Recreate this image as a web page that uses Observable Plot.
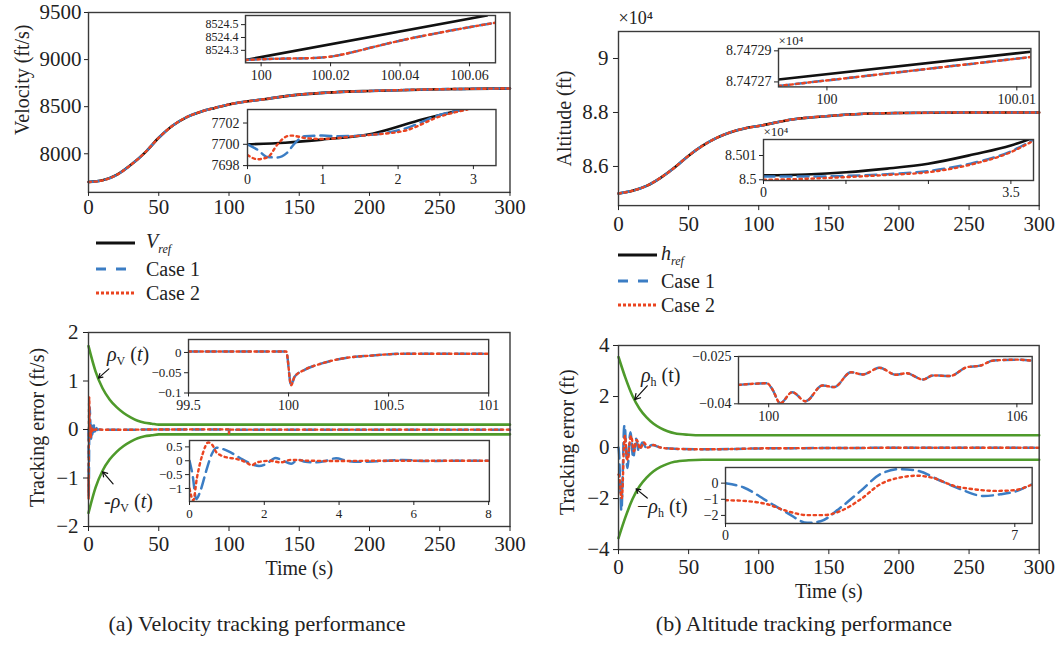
<!DOCTYPE html>
<html><head><meta charset="utf-8">
<script src="https://cdn.jsdelivr.net/npm/d3@7"></script>
<script src="https://cdn.jsdelivr.net/npm/@observablehq/plot@0.6"></script>
<style>
body{margin:0;background:#fff;}
#c{position:relative;width:1059px;height:645px;overflow:hidden;font-family:"Liberation Serif",serif;color:#222;background:#fff;}
.lbl{position:absolute;font-size:20px;white-space:nowrap;line-height:1;transform:translateY(-50%);}
.lbl sub{font-size:12px;vertical-align:-4px;}
.cap{position:absolute;font-size:22px;white-space:nowrap;transform:translate(-50%,-50%);}
</style></head><body><div id="c"></div>
<script>
// ---------------- data (a) velocity ----------------
const tV   = [0,10,20,30,40,50,60,70,80,90,100,125,150,175,200,250,300];
const vRef = [7700,7718,7775,7880,8010,8170,8300,8390,8447,8487,8524,8579,8628,8653,8667,8685,8693];
const vCase1 = vRef, vCase2 = vRef; // coincide at full scale
// inset: around t = 100 s
const tA1Ref = [99.9955,100.065], vA1Ref = [8524.225,8524.571];
const tA1Case = [99.9955,100.005,100.015,100.021,100.027,100.033,100.04,100.05,100.06,100.0675];
const vA1Case = [8524.225,8524.235,8524.24,8524.255,8524.29,8524.33,8524.375,8524.43,8524.48,8524.515];
// inset: first seconds
const tA2Ref = [0,0.5,0.99,1.66,2.33,2.85], vA2Ref = [7700,7700.15,7700.44,7701.0,7702.35,7703.25];
const tA2C1 = [0,0.13,0.27,0.4,0.52,0.63,0.76,0.99,1.21,1.66,2.1,2.55,2.88];
const vA2C1 = [7700,7699.5,7698.8,7698.76,7699.17,7700.12,7700.76,7700.82,7700.76,7700.9,7701.5,7702.75,7703.27];
const tA2C2 = [0,0.13,0.27,0.4,0.52,0.58,0.76,0.99,1.43,1.66,2.1,2.55,2.92];
const vA2C2 = [7699.0,7698.6,7698.8,7700.0,7700.75,7700.82,7700.6,7700.5,7700.76,7700.9,7701.3,7702.6,7703.27];
// ---------------- data (a) tracking error ----------------
const tRhoV = [0,5,10,15,20,25,30,35,40,45,50,300];
const rhoV  = [1.72,1.2,0.85,0.62,0.46,0.34,0.25,0.18,0.14,0.12,0.1,0.1];
const tEV1 = [0,0.08,0.18,0.3,0.45,0.6,0.72,0.9,1.1,1.35,1.6,1.86,2.05,2.3,2.5,2.72,2.9,3.1,3.35,3.6,3.92,4.2,4.5,5,5.7,6.3,7,8,10,20,50];
const eV1  = [0,-0.5,-1.38,-1.05,-0.35,0.25,0.47,0.42,0.3,0.1,-0.08,-0.19,-0.12,0.1,0,-0.11,0.04,-0.04,-0.06,-0.02,0.09,0,-0.04,-0.02,0.03,-0.01,0,0,-0.005,-0.005,0];
const tEV2 = [0,0.1,0.2,0.35,0.5,0.62,0.72,0.83,1.0,1.27,1.5,1.67,1.8,2.16,2.43,2.7,3.2,4,5,6,8,10,20,50];
const eV2  = [-1.0,-1.43,-0.6,0.24,0.66,0.55,0.3,0.2,0.12,0.06,-0.05,-0.16,-0.06,0,-0.06,0.03,0,-0.01,0,0,0,-0.005,-0.005,0];
const tEV100 = [99.5,99.988,100.013,100.03,100.08,100.166,100.25,100.42,100.59,101];
const eV100  = [0.0025,0.0025,-0.081,-0.06,-0.043,-0.027,-0.0165,-0.0074,-0.003,-0.003];
const tEVend = [150,300], eVend = [-0.003,-0.003];
// ---------------- data (b) altitude (x10^4 ft) ----------------
const tH   = [0,10,20,30,40,50,60,70,80,90,100,125,150,175,200,250,300];
const hRef = [8.5,8.51,8.528,8.558,8.596,8.64,8.677,8.706,8.727,8.741,8.75,8.775,8.787,8.795,8.798,8.8,8.8];
const hCase1 = hRef, hCase2 = hRef;
const tB1Ref = [99.99745,100.01074], hB1Ref = [8.7472716,8.7472894];
const tB1Case = [99.99745,100.01074], hB1Case = [8.7472674,8.747286];
const tB2Ref = [0,0.6,1.17,1.75,2.33,2.98,3.5,3.75];
const hB2Ref = [8.50018,8.50022,8.50031,8.50046,8.50066,8.50105,8.50141,8.50166];
const tB2C1 = [0,0.6,1.17,1.75,2.33,2.98,3.5,3.82];
const hB2C1 = [8.50013,8.50013,8.50016,8.50023,8.50036,8.5007,8.50117,8.50166];
const tB2C2 = [0,0.6,1.17,1.75,2.33,2.98,3.5,3.85];
const hB2C2 = [8.5,8.50004,8.50011,8.5002,8.50031,8.50066,8.50114,8.50166];
// ---------------- data (b) tracking error ----------------
const tRhoH = [0,5,10,15,20,25,30,35,40,50,60,300];
const rhoH  = [3.55,2.72,2.02,1.52,1.18,0.93,0.76,0.64,0.56,0.5,0.48,0.48];
const tEH1 = [0,0.44,1.0,1.49,1.98,2.3,2.78,3.27,3.75,4.23,4.64,5.2,5.69,6.25,6.65,7.06,7.43,8.5,10.5,12.5,14.5,17,20,24,30,40,60,80];
const eH1  = [0,-0.27,-1.1,-1.84,-2.46,-2.36,-1.52,-0.48,0.56,0.87,0.77,0.15,-0.38,-0.8,-0.69,-0.48,-0.06,0.6,-0.4,0.35,-0.15,0.2,-0.02,0.1,0,-0.05,-0.07,-0.06];
const tEH2 = [0,0.44,1.0,1.49,1.98,2.38,2.78,3.27,3.75,4.23,4.64,5.04,5.53,6.01,6.5,6.98,7.43,9,11,13,15.5,18,21,25,30,40,60,80];
const eH2  = [-1.06,-1.1,-1.3,-1.73,-1.98,-1.98,-1.73,-1.0,-0.06,0.35,0.46,0.31,-0.17,-0.38,-0.48,-0.44,-0.1,0.45,-0.15,0.3,-0.05,0.2,0,0.1,0,-0.05,-0.07,-0.06];
const tEH100 = [99.27,99.96,100.08,100.28,100.57,100.89,101.3,101.58,101.99,102.27,102.68,103.08,103.33,103.73,103.97,104.38,104.79,105.11,105.43,106.0,106.33];
const eH100  = [-0.034,-0.0335,-0.0352,-0.0398,-0.0363,-0.0392,-0.0342,-0.0347,-0.030,-0.0307,-0.0286,-0.0308,-0.0303,-0.0323,-0.031,-0.0312,-0.0284,-0.0279,-0.0263,-0.026,-0.0263];
const tEHend = [150,200,300], eHend = [-0.02,-0.01,-0.01];
// annotation arrows (data coordinates of their panels)
const arrowsV = [{x1:14.5,y1:1.25,x2:7,y2:1.06},{x1:17.5,y1:-1.12,x2:10,y2:-0.87}];
const arrowsH = [{x1:20.5,y1:2.42,x2:11.5,y2:1.88},{x1:20.5,y1:-1.98,x2:12.5,y2:-1.62}];

// ---------------- drawing ----------------
const FONT = "Liberation Serif";
const BLACK="#111", BLUE="#3b7dc4", RED="#ea4420", GREEN="#4e9a2b", FRAME="#3a3a3a";
const C = document.getElementById("c");
const P = (t, v) => t.map((x, i) => ({t: x, v: v[i]}));
const cat = (...parts) => parts.flat();
const f6 = d3.format(".6~f"), fd = d3.format("d");

function lines(ref, c1, c2, clip) {
  const out = [];
  if (ref) out.push(Plot.line(ref, {x:"t", y:"v", stroke:BLACK, strokeWidth:2.6, curve:"monotone-x", clip}));
  out.push(Plot.line(c1, {x:"t", y:"v", stroke:BLUE, strokeWidth:2.5, strokeDasharray:"11,6", curve:"monotone-x", clip}));
  out.push(Plot.line(c2, {x:"t", y:"v", stroke:RED, strokeWidth:2.4, strokeDasharray:"2.4,3.6", curve:"monotone-x", clip}));
  return out;
}
function envelope(t, r) {
  const d = P(t, r);
  return [
    Plot.line(d, {x:"t", y:"v", stroke:GREEN, strokeWidth:2.6, curve:"monotone-x"}),
    Plot.line(d, {x:"t", y: e => -e.v, stroke:GREEN, strokeWidth:2.6, curve:"monotone-x"})
  ];
}

function panel(o) {
  const [x0, y0, x1, y1] = o.box;
  const [mT, mR, mB, mL] = o.m;
  const W = x1 - x0, H = y1 - y0;
  const marks = [];
  if (o.bg) marks.push(Plot.frame({fill: "white"}));
  marks.push(...o.marks);
  marks.push(Plot.frame({stroke: FRAME, strokeWidth: o.fw ?? 1.4}));
  marks.push(Plot.axisX({ticks: o.xt, tickFormat: o.xf, tickSize: o.ts, tickPadding: o.tp, fontSize: o.fsx ?? o.fs, label: null}));
  marks.push(Plot.axisY({ticks: o.yt, tickFormat: o.yf, tickSize: o.ts, tickPadding: o.tp, fontSize: o.fsy ?? o.fs, label: null}));
  if (o.ylab) marks.push(Plot.text([o.ylab.text], {frameAnchor:"left", text: d => d, rotate:-90,
      dx: o.ylab.x - x0, dy: o.ylab.y - (y0 + y1) / 2, fontSize: 20, textAnchor:"middle", lineAnchor:"middle"}));
  if (o.xlab) marks.push(Plot.text([o.xlab.text], {frameAnchor:"bottom", text: d => d,
      dy: o.xlab.y - y1, fontSize: 20, textAnchor:"middle", lineAnchor:"middle"}));
  if (o.exp) marks.push(Plot.text(["×10⁴"], {frameAnchor:"top-left", text: d => d,
      dx: o.exp.dx, dy: o.exp.dy, fontSize: o.exp.fs, textAnchor:"start", lineAnchor:"middle"}));
  const svg = Plot.plot({
    width: W + mL + mR, height: H + mT + mB,
    marginTop: mT, marginRight: mR, marginBottom: mB, marginLeft: mL,
    x: {domain: o.xd}, y: {domain: o.yd},
    style: {background: "transparent", overflow: "visible", fontFamily: FONT, color: "#222"},
    marks
  });
  svg.style.position = "absolute";
  svg.style.left = (x0 - mL) + "px";
  svg.style.top = (y0 - mT) + "px";
  C.appendChild(svg);
}

const xMain = [0,50,100,150,200,250,300];

// ===== (a) top: velocity =====
panel({box:[88,11.8,509.5,191.7], m:[10,15,35,85], xd:[0,300], yd:[7590,9500],
  xt:xMain, yt:[8000,8500,9000,9500], xf:fd, yf:fd, ts:4, tp:3, fs:21,
  ylab:{text:"Velocity (ft/s)", x:22, y:79},
  marks: lines(P(tV,vRef), P(tV,vCase1), P(tV,vCase2))});
panel({box:[245,15.2,495,62.5], m:[5,5,25,60], bg:true, xd:[99.9955,100.0675], yd:[8524.203,8524.571],
  xt:[100,100.02,100.04,100.06], yt:[8524.3,8524.4,8524.5], xf:f6, yf:d3.format(".1f"), ts:4, tp:3, fsx:14, fsy:12,
  marks: lines(P(tA1Ref,vA1Ref), P(tA1Case,vA1Case), P(tA1Case,vA1Case), true)});
panel({box:[246.8,108.9,495.3,165], m:[5,5,25,60], bg:true, xd:[0,3.3], yd:[7698,7703.27],
  xt:[0,1,2,3], yt:[7698,7700,7702], xf:fd, yf:fd, ts:4, tp:4, fs:14,
  marks: lines(P(tA2Ref,vA2Ref), P(tA2C1,vA2C1), P(tA2C2,vA2C2), true)});

// ===== (a) bottom: velocity tracking error =====
panel({box:[88,332,509.5,526], m:[10,15,60,85], xd:[0,300], yd:[-2,2],
  xt:xMain, yt:[-2,-1,0,1,2], xf:fd, yf:fd, ts:5, tp:5, fs:21,
  ylab:{text:"Tracking error (ft/s)", x:37, y:427}, xlab:{text:"Time (s)", y:568},
  marks: [...envelope(tRhoV, rhoV),
    ...lines(null, P(cat(tEV1,tEV100,tEVend), cat(eV1,eV100,eVend)), P(cat(tEV2,tEV100,tEVend), cat(eV2,eV100,eVend))),
    Plot.arrow(arrowsV, {x1:"x1", y1:"y1", x2:"x2", y2:"y2", stroke:BLACK, strokeWidth:1.2, headLength:8})]});
panel({box:[188.3,338.7,488.5,392.2], m:[5,5,25,60], bg:true, xd:[99.5,101], yd:[-0.1,0.032],
  xt:[99.5,100,100.5,101], yt:[-0.1,-0.05,0], xf:f6, yf:f6, ts:4, tp:3, fsx:14, fsy:13,
  marks: lines(null, P(tEV100,eV100), P(tEV100,eV100), true)});
panel({box:[189.3,440,489.2,501], m:[5,5,25,60], bg:true, xd:[0,8.02], yd:[-1.47,0.73],
  xt:[0,2,4,6,8], yt:[-1,-0.5,0,0.5], xf:fd, yf:f6, ts:4, tp:3, fsx:13, fsy:13,
  marks: lines(null, P(tEV1,eV1), P(tEV2,eV2), true)});

// ===== (b) top: altitude =====
panel({box:[617.7,31,1038.4,205.1], m:[30,15,35,80], xd:[0,300], yd:[8.455,9.1],
  xt:xMain, yt:[8.6,8.8,9], xf:fd, yf:f6, ts:5, tp:5, fs:21,
  ylab:{text:"Altitude (ft)", x:563.7, y:118}, exp:{dx:0, dy:-13, fs:18},
  marks: lines(P(tH,hRef), P(tH,hCase1), P(tH,hCase2))});
panel({box:[778.3,48.3,1030.7,86.7], m:[20,5,25,70], bg:true, xd:[99.99745,100.01074], yd:[8.7472668,8.7472915],
  xt:[100,100.01], yt:[8.74727,8.74729], xf:f6, yf:d3.format(".5f"), ts:4, tp:3, fs:14,
  exp:{dx:0, dy:-8, fs:13},
  marks: lines(P(tB1Ref,hB1Ref), P(tB1Case,hB1Case), P(tB1Case,hB1Case), true)});
panel({box:[762.7,139,1032.7,180], m:[20,5,25,60], bg:true, xd:[0,3.82], yd:[8.49997,8.50166],
  xt:[0,7/6,7/3,3.5], yt:[8.5,8.501], xf: d => (d === 0 || d === 3.5) ? String(d) : "", yf:f6, ts:4, tp:3, fs:14,
  exp:{dx:0, dy:-8, fs:13},
  marks: lines(P(tB2Ref,hB2Ref), P(tB2C1,hB2C1), P(tB2C2,hB2C2), true)});

// ===== (b) bottom: altitude tracking error =====
panel({box:[617.7,345.3,1038.4,549.4], m:[10,15,60,80], xd:[0,300], yd:[-4,4],
  xt:xMain, yt:[-4,-2,0,2,4], xf:fd, yf:fd, ts:5, tp:4, fs:21,
  ylab:{text:"Tracking error (ft)", x:567, y:442}, xlab:{text:"Time (s)", y:591},
  marks: [...envelope(tRhoH, rhoH),
    ...lines(null, P(cat(tEH1,tEH100,tEHend), cat(eH1,eH100,eHend)), P(cat(tEH2,tEH100,tEHend), cat(eH2,eH100,eHend))),
    Plot.arrow(arrowsH, {x1:"x1", y1:"y1", x2:"x2", y2:"y2", stroke:BLACK, strokeWidth:1.2, headLength:8})]});
panel({box:[738,356,1031.7,403.3], m:[5,5,25,70], bg:true, xd:[99.27,106.37], yd:[-0.04,-0.025],
  xt:[100,106], yt:[-0.04,-0.025], xf:fd, yf:f6, ts:4, tp:3, fs:14,
  marks: lines(null, P(tEH100,eH100), P(tEH100,eH100), true)});
panel({box:[725,466.7,1031.7,522.7], m:[5,5,25,60], bg:true, xd:[0,7.42], yd:[-2.5,0.97],
  xt:[0,7], yt:[-2,-1,0], xf:fd, yf:fd, ts:4, tp:3, fs:14,
  marks: lines(null, P(tEH1,eH1), P(tEH2,eH2), true)});

// ---------------- annotations, legends, captions ----------------
function label(html, x, y) {
  const d = document.createElement("div");
  d.className = "lbl"; d.innerHTML = html;
  d.style.left = x + "px"; d.style.top = y + "px";
  C.appendChild(d);
}
label("<i>ρ</i><sub>V</sub> (<i>t</i>)", 107, 355);
label("-<i>ρ</i><sub>V</sub> (<i>t</i>)", 104, 502);
label("<i>ρ</i><sub>h</sub> (t)", 641, 376);
label("−<i>ρ</i><sub>h</sub> (t)", 637, 507);

function legend(left, top, refName, rows) {
  const svg = d3.create("svg").attr("width", 160).attr("height", 80)
    .style("position", "absolute").style("left", left + "px").style("top", top + "px")
    .style("font-family", FONT).style("overflow", "visible");
  const styles = [
    {stroke: BLACK, dash: null},
    {stroke: BLUE, dash: "10,10"},
    {stroke: RED, dash: "3,2"}
  ];
  rows.forEach((y, i) => {
    svg.append("line").attr("x1", 6).attr("x2", 45).attr("y1", y).attr("y2", y)
      .attr("stroke", styles[i].stroke).attr("stroke-width", 3.2).attr("stroke-dasharray", styles[i].dash);
  });
  const x = refName.x;
  const t0 = svg.append("text").attr("x", x).attr("y", rows[0] + 5).attr("font-size", 20).attr("fill", "#222");
  t0.append("tspan").attr("font-style", "italic").text(refName.sym);
  t0.append("tspan").attr("font-style", "italic").attr("font-size", 12).attr("dy", 5).text("ref");
  ["Case 1", "Case 2"].forEach((s, i) => {
    svg.append("text").attr("x", x).attr("y", rows[i + 1] + 7).attr("font-size", 20).attr("fill", "#222").text(s);
  });
  C.appendChild(svg.node());
}
legend(90, 230, {sym: "V", x: 56}, [13, 39, 63]);
legend(612, 245, {sym: "h", x: 49}, [10, 36, 60]);

function caption(text, x, y) {
  const d = document.createElement("div");
  d.className = "cap"; d.textContent = text;
  d.style.left = x + "px"; d.style.top = y + "px";
  C.appendChild(d);
}
caption("(a) Velocity tracking performance", 257, 624);
caption("(b) Altitude tracking performance", 804, 624);
</script></body></html>
